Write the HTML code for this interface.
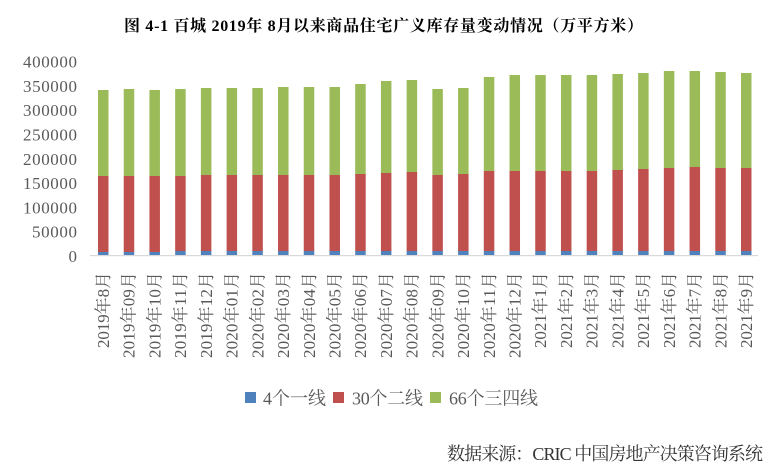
<!DOCTYPE html>
<html><head><meta charset="utf-8"><style>
html,body{margin:0;padding:0;background:#fff;}
svg{display:block;}
.t{font-family:"Liberation Serif","Noto Serif CJK SC",serif;}
</style></head><body>
<svg width="783" height="465" viewBox="0 0 783 465" xmlns="http://www.w3.org/2000/svg">
<rect width="783" height="465" fill="#fff"/>
<text class="t" x="124" y="31" font-size="16" font-weight="bold" fill="#000" textLength="519" lengthAdjust="spacing">图 4-1 百城 2019年 8月以来商品住宅广义库存量变动情况（万平方米）</text>

<g class="t" font-size="17" fill="#595959" text-anchor="end">
<text x="77" y="262">0</text>
<text x="77" y="237.7" textLength="45" lengthAdjust="spacing">50000</text>
<text x="77" y="213.4" textLength="54" lengthAdjust="spacing">100000</text>
<text x="77" y="189.1" textLength="54" lengthAdjust="spacing">150000</text>
<text x="77" y="164.8" textLength="54" lengthAdjust="spacing">200000</text>
<text x="77" y="140.5" textLength="54" lengthAdjust="spacing">250000</text>
<text x="77" y="116.2" textLength="54" lengthAdjust="spacing">300000</text>
<text x="77" y="91.9" textLength="54" lengthAdjust="spacing">350000</text>
<text x="77" y="67.6" textLength="54" lengthAdjust="spacing">400000</text>
</g>

<g>
<!-- green -->
<g fill="#9BBB59">
<rect x="98" y="90" width="10.5" height="86"/>
<rect x="123.72" y="89" width="10.5" height="87"/>
<rect x="149.44" y="90" width="10.5" height="86"/>
<rect x="175.16" y="89" width="10.5" height="87"/>
<rect x="200.88" y="88" width="10.5" height="87"/>
<rect x="226.6" y="88" width="10.5" height="87"/>
<rect x="252.32" y="88" width="10.5" height="87"/>
<rect x="278.04" y="87" width="10.5" height="88"/>
<rect x="303.76" y="87" width="10.5" height="88"/>
<rect x="329.48" y="87" width="10.5" height="88"/>
<rect x="355.2" y="84" width="10.5" height="90"/>
<rect x="380.92" y="81" width="10.5" height="92"/>
<rect x="406.64" y="80" width="10.5" height="92"/>
<rect x="432.36" y="89" width="10.5" height="86"/>
<rect x="458.08" y="88" width="10.5" height="86"/>
<rect x="483.8" y="77" width="10.5" height="94"/>
<rect x="509.52" y="75" width="10.5" height="96"/>
<rect x="535.24" y="75" width="10.5" height="96"/>
<rect x="560.96" y="75" width="10.5" height="96"/>
<rect x="586.68" y="75" width="10.5" height="96"/>
<rect x="612.4" y="74" width="10.5" height="96"/>
<rect x="638.12" y="73" width="10.5" height="96"/>
<rect x="663.84" y="71" width="10.5" height="97"/>
<rect x="689.56" y="71" width="10.5" height="96"/>
<rect x="715.28" y="72" width="10.5" height="96"/>
<rect x="741" y="73" width="10.5" height="95"/>
</g>
<!-- red -->
<g fill="#C0504D">
<rect x="98" y="176" width="10.5" height="76"/>
<rect x="123.72" y="176" width="10.5" height="76"/>
<rect x="149.44" y="176" width="10.5" height="76"/>
<rect x="175.16" y="176" width="10.5" height="75"/>
<rect x="200.88" y="175" width="10.5" height="76"/>
<rect x="226.6" y="175" width="10.5" height="76"/>
<rect x="252.32" y="175" width="10.5" height="76"/>
<rect x="278.04" y="175" width="10.5" height="76"/>
<rect x="303.76" y="175" width="10.5" height="76"/>
<rect x="329.48" y="175" width="10.5" height="76"/>
<rect x="355.2" y="174" width="10.5" height="77"/>
<rect x="380.92" y="173" width="10.5" height="78"/>
<rect x="406.64" y="172" width="10.5" height="79"/>
<rect x="432.36" y="175" width="10.5" height="76"/>
<rect x="458.08" y="174" width="10.5" height="77"/>
<rect x="483.8" y="171" width="10.5" height="80"/>
<rect x="509.52" y="171" width="10.5" height="80"/>
<rect x="535.24" y="171" width="10.5" height="80"/>
<rect x="560.96" y="171" width="10.5" height="80"/>
<rect x="586.68" y="171" width="10.5" height="80"/>
<rect x="612.4" y="170" width="10.5" height="81"/>
<rect x="638.12" y="169" width="10.5" height="82"/>
<rect x="663.84" y="168" width="10.5" height="83"/>
<rect x="689.56" y="167" width="10.5" height="84"/>
<rect x="715.28" y="168" width="10.5" height="83"/>
<rect x="741" y="168" width="10.5" height="83"/>
</g>
<!-- blue -->
<g fill="#4F81BD">
<rect x="98" y="252" width="10.5" height="3.5"/>
<rect x="123.72" y="252" width="10.5" height="3.5"/>
<rect x="149.44" y="252" width="10.5" height="3.5"/>
<rect x="175.16" y="251" width="10.5" height="4.5"/>
<rect x="200.88" y="251" width="10.5" height="4.5"/>
<rect x="226.6" y="251" width="10.5" height="4.5"/>
<rect x="252.32" y="251" width="10.5" height="4.5"/>
<rect x="278.04" y="251" width="10.5" height="4.5"/>
<rect x="303.76" y="251" width="10.5" height="4.5"/>
<rect x="329.48" y="251" width="10.5" height="4.5"/>
<rect x="355.2" y="251" width="10.5" height="4.5"/>
<rect x="380.92" y="251" width="10.5" height="4.5"/>
<rect x="406.64" y="251" width="10.5" height="4.5"/>
<rect x="432.36" y="251" width="10.5" height="4.5"/>
<rect x="458.08" y="251" width="10.5" height="4.5"/>
<rect x="483.8" y="251" width="10.5" height="4.5"/>
<rect x="509.52" y="251" width="10.5" height="4.5"/>
<rect x="535.24" y="251" width="10.5" height="4.5"/>
<rect x="560.96" y="251" width="10.5" height="4.5"/>
<rect x="586.68" y="251" width="10.5" height="4.5"/>
<rect x="612.4" y="251" width="10.5" height="4.5"/>
<rect x="638.12" y="251" width="10.5" height="4.5"/>
<rect x="663.84" y="251" width="10.5" height="4.5"/>
<rect x="689.56" y="251" width="10.5" height="4.5"/>
<rect x="715.28" y="251" width="10.5" height="4.5"/>
<rect x="741" y="251" width="10.5" height="4.5"/>
</g>
</g>
<rect x="90" y="255" width="668" height="1.2" fill="#d9d9d9"/>

<g class="t" font-size="17" fill="#595959" text-anchor="end">
<text transform="translate(109,272) rotate(-90)" textLength="76" lengthAdjust="spacing">2019年8月</text>
<text transform="translate(134.7,272) rotate(-90)" textLength="86" lengthAdjust="spacing">2019年09月</text>
<text transform="translate(160.4,272) rotate(-90)" textLength="86" lengthAdjust="spacing">2019年10月</text>
<text transform="translate(186.2,272) rotate(-90)" textLength="86" lengthAdjust="spacing">2019年11月</text>
<text transform="translate(211.9,272) rotate(-90)" textLength="86" lengthAdjust="spacing">2019年12月</text>
<text transform="translate(237.6,272) rotate(-90)" textLength="86" lengthAdjust="spacing">2020年01月</text>
<text transform="translate(263.3,272) rotate(-90)" textLength="86" lengthAdjust="spacing">2020年02月</text>
<text transform="translate(289,272) rotate(-90)" textLength="86" lengthAdjust="spacing">2020年03月</text>
<text transform="translate(314.8,272) rotate(-90)" textLength="86" lengthAdjust="spacing">2020年04月</text>
<text transform="translate(340.5,272) rotate(-90)" textLength="86" lengthAdjust="spacing">2020年05月</text>
<text transform="translate(366.2,272) rotate(-90)" textLength="86" lengthAdjust="spacing">2020年06月</text>
<text transform="translate(391.9,272) rotate(-90)" textLength="86" lengthAdjust="spacing">2020年07月</text>
<text transform="translate(417.6,272) rotate(-90)" textLength="86" lengthAdjust="spacing">2020年08月</text>
<text transform="translate(443.4,272) rotate(-90)" textLength="86" lengthAdjust="spacing">2020年09月</text>
<text transform="translate(469.1,272) rotate(-90)" textLength="86" lengthAdjust="spacing">2020年10月</text>
<text transform="translate(494.8,272) rotate(-90)" textLength="86" lengthAdjust="spacing">2020年11月</text>
<text transform="translate(520.5,272) rotate(-90)" textLength="86" lengthAdjust="spacing">2020年12月</text>
<text transform="translate(546.2,272) rotate(-90)" textLength="76" lengthAdjust="spacing">2021年1月</text>
<text transform="translate(572,272) rotate(-90)" textLength="76" lengthAdjust="spacing">2021年2月</text>
<text transform="translate(597.7,272) rotate(-90)" textLength="76" lengthAdjust="spacing">2021年3月</text>
<text transform="translate(623.4,272) rotate(-90)" textLength="76" lengthAdjust="spacing">2021年4月</text>
<text transform="translate(649.1,272) rotate(-90)" textLength="76" lengthAdjust="spacing">2021年5月</text>
<text transform="translate(674.8,272) rotate(-90)" textLength="76" lengthAdjust="spacing">2021年6月</text>
<text transform="translate(700.6,272) rotate(-90)" textLength="76" lengthAdjust="spacing">2021年7月</text>
<text transform="translate(726.3,272) rotate(-90)" textLength="76" lengthAdjust="spacing">2021年8月</text>
<text transform="translate(752,272) rotate(-90)" textLength="76" lengthAdjust="spacing">2021年9月</text>
</g>

<rect x="245" y="392" width="11" height="11" fill="#4F81BD"/>
<rect x="333" y="392" width="11" height="11" fill="#C0504D"/>
<rect x="430" y="392" width="11" height="11" fill="#9BBB59"/>
<g class="t" font-size="18" fill="#595959">
<text x="263" y="404.5" textLength="63" lengthAdjust="spacing">4个一线</text>
<text x="352" y="404.5" textLength="71" lengthAdjust="spacing">30个二线</text>
<text x="449" y="404.5" textLength="89" lengthAdjust="spacing">66个三四线</text>
</g>

<text class="t" x="447" y="460" font-size="18" fill="#333" textLength="316" lengthAdjust="spacing">数据来源：CRIC 中国房地产决策咨询系统</text>
</svg>
</body></html>
